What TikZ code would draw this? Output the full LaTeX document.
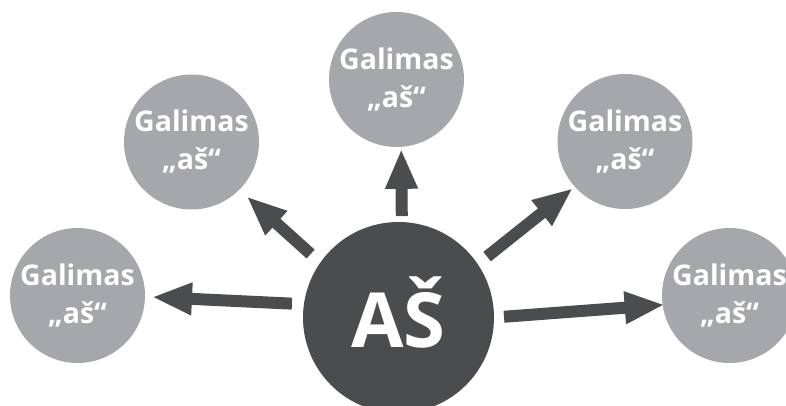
\documentclass[tikz,border=0pt]{standalone}
\usepackage{fontspec}
\setmainfont{Open Sans}
\usetikzlibrary{arrows.meta}
\definecolor{darkg}{HTML}{4B4C4E}
\definecolor{lightg}{HTML}{A6A7AA}
\begin{document}
\begin{tikzpicture}[x=1pt,y=-1pt,
  small/.style={circle, fill=lightg, minimum size=135pt, inner sep=0pt, outer sep=0pt,
    text=white, font=\bfseries\fontsize{28.5}{38}\selectfont, align=center},
  big/.style={circle, fill=darkg, minimum size=191pt, inner sep=0pt, outer sep=0pt},
  arr/.style={draw=darkg, line width=12pt, -{Triangle[width=30pt,length=40pt]}}]
\useasboundingbox (0,0) rectangle (786,406);
\clip (0,0) rectangle (786,406);
\node[big] (c) at (398.5,317.5) {};
\node[text=white, font=\bfseries\fontsize{76}{76}\selectfont, anchor=base] (ct) at (398.5,347) {AŠ};
\node[small] (l) at (77.5,295.5) {Galimas\\„aš“};
\node[small] (ul) at (191.5,142) {Galimas\\„aš“};
\node[small] (t) at (396.5,79.5) {Galimas\\„aš“};
\node[small] (ur) at (625,141.5) {Galimas\\„aš“};
\node[small] (r) at (729.5,295.5) {Galimas\\„aš“};
\draw[arr, shorten <=12pt, shorten >=7pt] (c.172.8) -- (l.-1.2);
\draw[arr, shorten <=13pt, shorten >=10pt] (c.145.5) -- (ul.-45.3);
\draw[arr, shorten <=6pt, shorten >=2pt] (c.88.6) -- (t.274.1);
\draw[arr, shorten <=12pt, shorten >=2.5pt] (c.34.8) -- (ur.222.4);
\draw[arr, shorten <=10pt, shorten >=-2pt] (c.-0.3) -- (r.188.4);
\end{tikzpicture}
\end{document}
